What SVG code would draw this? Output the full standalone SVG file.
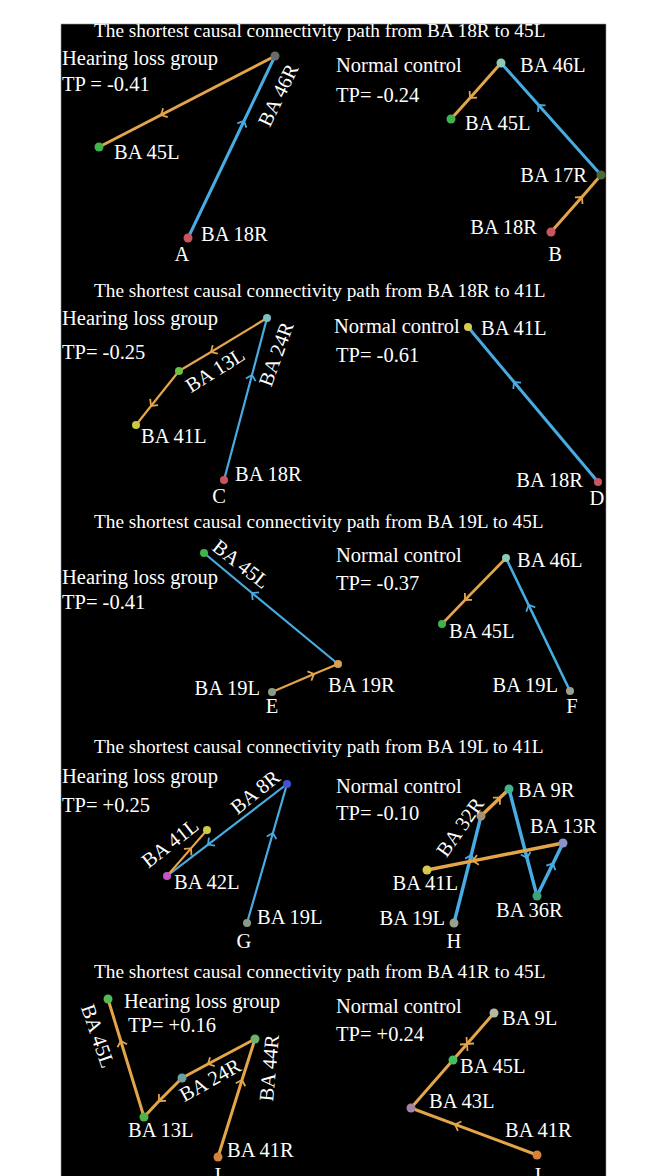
<svg xmlns="http://www.w3.org/2000/svg" width="657" height="1176" viewBox="0 0 657 1176">
<defs>
<style>
text{font-family:"Liberation Serif","Times New Roman",serif;fill:#fff;font-size:20.5px}
.title{font-size:19.3px}
.e{fill:none;stroke-linecap:round;stroke-linejoin:round}
.o{stroke:#e3a44a;marker-mid:url(#chO)}
.b{stroke:#48ace3;marker-mid:url(#chB)}
.mid{text-anchor:middle}
.end{text-anchor:end}
</style>
<marker id="chO" markerUnits="userSpaceOnUse" markerWidth="14" markerHeight="14" refX="7" refY="7" orient="auto" overflow="visible">
<path d="M2,2 L7,7 L2,12" fill="none" stroke="#e3a44a" stroke-width="1.8"/>
</marker>
<marker id="chB" markerUnits="userSpaceOnUse" markerWidth="14" markerHeight="14" refX="7" refY="7" orient="auto" overflow="visible">
<path d="M2,2 L7,7 L2,12" fill="none" stroke="#48ace3" stroke-width="1.8"/>
</marker>
<marker id="chX" markerUnits="userSpaceOnUse" markerWidth="14" markerHeight="14" refX="7" refY="7" orient="auto" overflow="visible">
<path d="M2,2 L7,7 L2,12 M12,2 L7,7 L12,12" fill="none" stroke="#e3a44a" stroke-width="1.8"/>
</marker>
</defs>
<rect x="0" y="0" width="657" height="1176" fill="#fff"/>
<rect x="61" y="24" width="545" height="1160" fill="#000" stroke="#999" stroke-width="0.6"/>

<g id="connectors">
<!-- A -->
<path class="e o" stroke-width="3" d="M275,56 L161,115 L99,147"/>
<path class="e b" stroke-width="3" d="M188,238 L244,121 L275,56"/>
<!-- B -->
<path class="e o" stroke-width="3" d="M501,63 L470,98 L451,119"/>
<path class="e b" stroke-width="3" d="M601,175 L538.5,105 L501,63"/>
<path class="e o" stroke-width="3" d="M551,232 L582,197 L601,175"/>
<!-- C -->
<path class="e o" stroke-width="2.2" d="M267,318 L211,352 L179,371"/>
<path class="e o" stroke-width="2.2" d="M179,371 L151,406 L136,425"/>
<path class="e b" stroke-width="2.2" d="M224,480 L252,375 L267,318"/>
<!-- D -->
<path class="e b" stroke-width="3" d="M598,482 L514,382 L468,327"/>
<!-- E -->
<path class="e b" stroke-width="2.2" d="M338,664 L252,593 L204,553"/>
<path class="e o" stroke-width="2.2" d="M272,692 L314,674 L338,664"/>
<!-- F -->
<path class="e o" stroke-width="2.6" d="M506,558 L465,600 L442,624"/>
<path class="e b" stroke-width="2.6" d="M570,691 L528.6,605 L506,558"/>
<!-- G -->
<path class="e b" stroke-width="2.2" d="M287,784 L208,844.6 L167,876"/>
<path class="e o" stroke-width="2.2" d="M167,876 L191,848.4 L207,830"/>
<path class="e b" stroke-width="2.2" d="M247,923 L272.9,833 L287,784"/>
<!-- H -->
<path class="e b" stroke-width="3.4" d="M454,923 L471.2,855 L481,816"/>
<path class="e o" stroke-width="3.4" d="M481,816 L500,797.7 L509,789"/>
<path class="e b" stroke-width="3.4" d="M509,789 L527,858 L537,896"/>
<path class="e b" stroke-width="3.4" d="M537,896 L553,863.4 L563,843"/>
<path class="e o" stroke-width="3.4" d="M563,843 L473,860.9 L427,870"/>
<!-- I -->
<path class="e o" stroke-width="3" d="M218,1157 L242,1080 L255,1039"/>
<path class="e o" stroke-width="3" d="M255,1039 L208,1064 L182,1078"/>
<path class="e o" stroke-width="3" d="M182,1078 L159,1101 L144,1117"/>
<path class="e o" stroke-width="3" d="M144,1117 L120.8,1041 L108,999"/>
<!-- J -->
<path class="e o" stroke-width="3" d="M537,1155 L455,1124.4 L411,1108"/>
<path class="e" stroke="#e3a44a" stroke-width="3" marker-mid="url(#chX)" d="M411,1108 L467,1044 L494,1013"/>
</g>

<g id="titles">
<text class="title" x="94" y="37">The shortest causal connectivity path from BA 18R to 45L</text>
<text class="title" x="94" y="297">The shortest causal connectivity path from BA 18R to 41L</text>
<text class="title" x="94" y="528">The shortest causal connectivity path from BA 19L to 45L</text>
<text class="title" x="94" y="753">The shortest causal connectivity path from BA 19L to 41L</text>
<text class="title" x="94" y="978">The shortest causal connectivity path from BA 41R to 45L</text>
</g>

<g id="panelA">
<text x="62" y="65">Hearing loss group</text>
<text x="62" y="91">TP = -0.41</text>
<g id="A-46R"><circle cx="275" cy="56" r="4.5" fill="#6b6b6b"/><text class="mid" dy="7" transform="translate(278,95) rotate(-64)">BA 46R</text></g>
<g id="A-45L"><circle cx="99" cy="147" r="4.5" fill="#3fb34c"/><text x="114" y="159">BA 45L</text></g>
<g id="A-18R"><circle cx="188" cy="238" r="4.5" fill="#c9555f"/><text x="201" y="241">BA 18R</text></g>
<text class="mid" x="182" y="261">A</text>
</g>

<g id="panelB">
<text x="336" y="72">Normal control</text>
<text x="336" y="102">TP= -0.24</text>
<g id="B-46L"><circle cx="501" cy="63" r="4.5" fill="#8fcab8"/><text x="520" y="72">BA 46L</text></g>
<g id="B-45L"><circle cx="451" cy="119" r="4.5" fill="#3fb34c"/><text x="465" y="130">BA 45L</text></g>
<g id="B-17R"><circle cx="601" cy="175" r="4.5" fill="#4b6a3c"/><text class="end" x="587" y="182">BA 17R</text></g>
<g id="B-18R"><circle cx="551" cy="232" r="4.5" fill="#c9555f"/><text class="end" x="537" y="234">BA 18R</text></g>
<text class="mid" x="555" y="261">B</text>
</g>

<g id="panelC">
<text x="62" y="325">Hearing loss group</text>
<text x="62" y="359">TP= -0.25</text>
<g id="C-24R"><circle cx="267" cy="318" r="4" fill="#7fbfbf"/><text class="mid" dy="7" transform="translate(276,354) rotate(-70)">BA 24R</text></g>
<g id="C-13L"><circle cx="179" cy="371" r="4" fill="#6cc043"/><text class="mid" dy="7" transform="translate(215,370) rotate(-32)">BA 13L</text></g>
<g id="C-41L"><circle cx="136" cy="425" r="4" fill="#c9c845"/><text x="141" y="443">BA 41L</text></g>
<g id="C-18R"><circle cx="224" cy="480" r="4" fill="#c9555f"/><text x="235" y="481">BA 18R</text></g>
<text class="mid" x="219" y="503">C</text>
</g>

<g id="panelD">
<text x="334" y="333">Normal control</text>
<text x="336" y="362">TP= -0.61</text>
<g id="D-41L"><circle cx="468" cy="327" r="4" fill="#d6cb4e"/><text x="481" y="335">BA 41L</text></g>
<g id="D-18R"><circle cx="598" cy="482" r="4" fill="#c9555f"/><text class="end" x="583" y="487">BA 18R</text></g>
<text class="mid" x="597" y="505">D</text>
</g>

<g id="panelE">
<text x="62" y="584">Hearing loss group</text>
<text x="62" y="609">TP= -0.41</text>
<g id="E-45L"><circle cx="204" cy="553" r="4" fill="#3fb34c"/><text class="mid" dy="7" transform="translate(241,564) rotate(38)">BA 45L</text></g>
<g id="E-19R"><circle cx="338" cy="664" r="4" fill="#d9a052"/><text x="328" y="692">BA 19R</text></g>
<g id="E-19L"><circle cx="272" cy="692" r="4" fill="#8a9a86"/><text class="end" x="260" y="695">BA 19L</text></g>
<text class="mid" x="272" y="713">E</text>
</g>

<g id="panelF">
<text x="336" y="562">Normal control</text>
<text x="336" y="590">TP= -0.37</text>
<g id="F-46L"><circle cx="506" cy="558" r="4" fill="#8fcab8"/><text x="517" y="567">BA 46L</text></g>
<g id="F-45L"><circle cx="442" cy="624" r="4" fill="#3fb34c"/><text x="449" y="638">BA 45L</text></g>
<g id="F-19L"><circle cx="570" cy="691" r="4" fill="#9aa08e"/><text class="end" x="558" y="692">BA 19L</text></g>
<text class="mid" x="572" y="713">F</text>
</g>

<g id="panelG">
<text x="62" y="783">Hearing loss group</text>
<text x="62" y="812">TP= +0.25</text>
<g id="G-8R"><circle cx="287" cy="784" r="4" fill="#4452d2"/><text class="mid" dy="7" transform="translate(255,792) rotate(-39)">BA 8R</text></g>
<g id="G-41L"><circle cx="207" cy="830" r="4" fill="#cfc948"/><text class="mid" dy="7" transform="translate(170,843) rotate(-38)">BA 41L</text></g>
<g id="G-42L"><circle cx="167" cy="876" r="4" fill="#c455c4"/><text x="174" y="889">BA 42L</text></g>
<g id="G-19L"><circle cx="247" cy="923" r="4" fill="#8a9a86"/><text x="257" y="924">BA 19L</text></g>
<text class="mid" x="244" y="948">G</text>
</g>

<g id="panelH">
<text x="336" y="793">Normal control</text>
<text x="336" y="820">TP= -0.10</text>
<g id="H-9R"><circle cx="509" cy="789" r="4.5" fill="#3fb290"/><text x="518" y="797">BA 9R</text></g>
<g id="H-32R"><circle cx="481" cy="816" r="4.5" fill="#a39072"/><text class="mid" dy="7" transform="translate(460,827) rotate(-55)">BA 32R</text></g>
<g id="H-13R"><circle cx="563" cy="843" r="4.5" fill="#8a90c8"/><text x="530" y="833">BA 13R</text></g>
<g id="H-41L"><circle cx="427" cy="870" r="4.5" fill="#d6cb4e"/><text class="end" x="458" y="890">BA 41L</text></g>
<g id="H-36R"><circle cx="537" cy="896" r="4.5" fill="#3fa272"/><text x="496" y="917">BA 36R</text></g>
<g id="H-19L"><circle cx="454" cy="923" r="4.5" fill="#9aa08e"/><text class="end" x="445" y="925">BA 19L</text></g>
<text class="mid" x="454" y="948">H</text>
</g>

<g id="panelI">
<text x="124" y="1008">Hearing loss group</text>
<text x="128" y="1032">TP= +0.16</text>
<g id="I-45L"><circle cx="108" cy="999" r="4.5" fill="#56b85a"/><text class="mid" dy="7" transform="translate(98,1036) rotate(71)">BA 45L</text></g>
<g id="I-44R"><circle cx="255" cy="1039" r="4.5" fill="#6fb06d"/><text class="mid" dy="7" transform="translate(269,1068) rotate(-85)">BA 44R</text></g>
<g id="I-24R"><circle cx="182" cy="1078" r="4.5" fill="#6aa2a2"/><text class="mid" dy="7" transform="translate(210,1080) rotate(-29)">BA 24R</text></g>
<g id="I-13L"><circle cx="144" cy="1117" r="4.5" fill="#4cb548"/><text x="128" y="1137">BA 13L</text></g>
<g id="I-41R"><circle cx="218" cy="1157" r="4.5" fill="#d4833c"/><text x="227" y="1157">BA 41R</text></g>
<text class="mid" x="218" y="1182">I</text>
</g>

<g id="panelJ">
<text x="336" y="1013">Normal control</text>
<text x="336" y="1041">TP= +0.24</text>
<g id="J-9L"><circle cx="494" cy="1013" r="4.5" fill="#b4baa2"/><text x="502" y="1025">BA 9L</text></g>
<g id="J-45L"><circle cx="453" cy="1060" r="4.5" fill="#44c062"/><text x="460" y="1073">BA 45L</text></g>
<g id="J-43L"><circle cx="411" cy="1108" r="4.5" fill="#a383a3"/><text x="429" y="1108">BA 43L</text></g>
<g id="J-41R"><circle cx="537" cy="1155" r="4.5" fill="#d4833c"/><text x="505" y="1137">BA 41R</text></g>
<text class="mid" x="537" y="1182">J</text>
</g>
</svg>
